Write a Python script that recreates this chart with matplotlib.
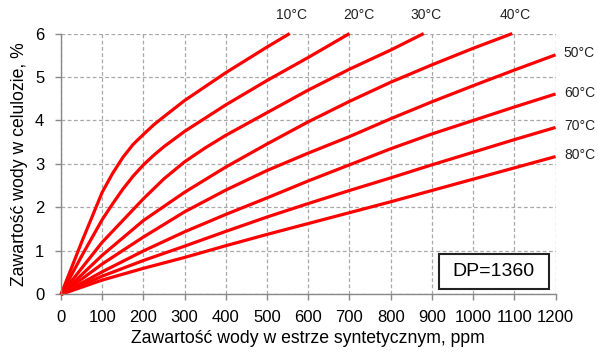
import matplotlib.pyplot as plt
from matplotlib.patches import Rectangle

plt.rcParams['font.family'] = ['Liberation Sans', 'DejaVu Sans']

# Izotermy równowagi wody: celuloza / estr syntetyczny (DP=1360)
temps = ['10°C', '20°C', '30°C', '40°C', '50°C', '60°C', '70°C', '80°C']

x_10 = [0, 50, 100, 125, 150, 175, 200, 225, 250, 300, 400, 500, 555]
y_10 = [0, 1.2, 2.35, 2.78, 3.15, 3.45, 3.68, 3.9, 4.09, 4.46, 5.1, 5.69, 6.0]

x_20 = [0, 50, 100, 125, 150, 175, 200, 225, 250, 300, 400, 500, 600, 700]
y_20 = [0, 0.88, 1.72, 2.08, 2.42, 2.72, 2.98, 3.2, 3.4, 3.75, 4.36, 4.92, 5.45, 6.0]

x_30 = [0, 100, 200, 250, 300, 350, 400, 500, 600, 700, 800, 880]
y_30 = [0, 1.2, 2.2, 2.66, 3.05, 3.37, 3.66, 4.18, 4.7, 5.18, 5.62, 6.0]

x_40 = [0, 100, 200, 300, 400, 500, 600, 700, 800, 900, 1000, 1095]
y_40 = [0, 0.9, 1.7, 2.35, 2.93, 3.46, 3.97, 4.44, 4.88, 5.28, 5.66, 6.0]

x_50 = [0, 100, 200, 300, 400, 500, 600, 700, 800, 900, 1000, 1100, 1200]
y_50 = [0, 0.7, 1.32, 1.9, 2.4, 2.85, 3.25, 3.63, 4.04, 4.43, 4.8, 5.16, 5.51]

x_60 = [0, 100, 200, 300, 400, 500, 600, 700, 800, 900, 1000, 1100, 1200]
y_60 = [0, 0.52, 1.0, 1.44, 1.84, 2.22, 2.61, 2.98, 3.35, 3.69, 4.0, 4.31, 4.61]

x_70 = [0, 100, 200, 300, 400, 500, 600, 700, 800, 900, 1000, 1100, 1200]
y_70 = [0, 0.42, 0.78, 1.11, 1.45, 1.78, 2.09, 2.39, 2.68, 2.98, 3.27, 3.56, 3.84]

x_80 = [0, 100, 200, 300, 400, 500, 600, 700, 800, 900, 1000, 1100, 1200]
y_80 = [0, 0.33, 0.6, 0.85, 1.12, 1.38, 1.63, 1.88, 2.13, 2.39, 2.65, 2.91, 3.17]

curves = [(x_10, y_10), (x_20, y_20), (x_30, y_30), (x_40, y_40),
          (x_50, y_50), (x_60, y_60), (x_70, y_70), (x_80, y_80)]

fig = plt.figure(figsize=(5.98, 3.53), dpi=100)
ax = fig.add_axes([0.102, 0.166, 0.827, 0.739])

for xs, ys in curves:
    ax.plot(xs, ys, color='#ff0000', lw=2.3, solid_capstyle='butt',
            solid_joinstyle='round', clip_on=False)

# podpisy temperatur: u góry dla krzywych kończących się na y=6, z prawej dla pozostałych
top_dx = [1, 7, 2, 2]
k = 0
for name, (xs, ys) in zip(temps, curves):
    if ys[-1] >= 6.0:
        ax.annotate(name, xy=(xs[-1], 6.0), xytext=(top_dx[k], 8), textcoords='offset points',
                    ha='center', va='bottom', fontsize=10, color='#222222',
                    annotation_clip=False)
        k += 1
    else:
        ax.annotate(name, xy=(xs[-1], ys[-1]), xytext=(6, 1), textcoords='offset points',
                    ha='left', va='center', fontsize=10, color='#222222',
                    annotation_clip=False)

ax.set_xlim(0, 1200)
ax.set_ylim(0, 6)
ax.set_xticks(range(0, 1201, 100))
ax.set_yticks(range(0, 7))
ax.grid(True, color='#a8a8a8', lw=0.9, linestyle=(0, (3, 2)))
ax.set_axisbelow(True)

for side in ['top', 'right']:
    ax.spines[side].set_visible(False)
for side in ['left', 'bottom']:
    ax.spines[side].set_color('#888888')
    ax.spines[side].set_linewidth(1.0)
ax.tick_params(axis='both', colors='#888888', labelcolor='black', labelsize=12,
               length=4, width=1.0, direction='out')
ax.tick_params(axis='x', pad=7)
ax.tick_params(axis='y', pad=8)

ax.set_xlabel('Zawartość wody w estrze syntetycznym, ppm', fontsize=12.7, labelpad=4)
ax.set_ylabel('Zawartość wody w celulozie, %', fontsize=12.7, labelpad=5)

# ramka z opisem stopnia polimeryzacji
ax.add_patch(Rectangle((917, 0.12), 267, 0.81, facecolor='white', edgecolor='#222222',
                       lw=1.5, zorder=3))
ax.text(1050, 0.525, 'DP=1360', ha='center', va='center', fontsize=14, zorder=4)

fig.savefig('out.png', dpi=100)
